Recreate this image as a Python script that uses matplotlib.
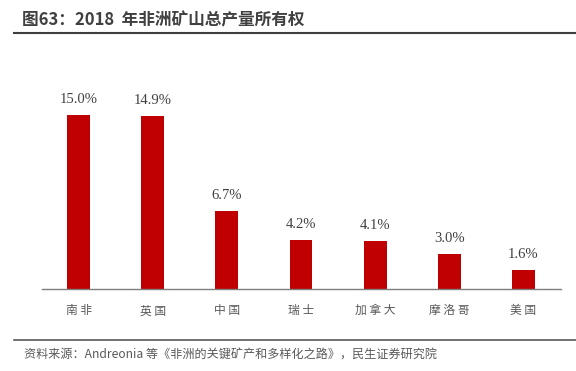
import matplotlib
matplotlib.use("Agg")
import matplotlib.pyplot as plt
from matplotlib.lines import Line2D

plt.rcParams["font.family"] = ["Noto Sans CJK SC", "DejaVu Sans"]

COUNTRIES = ["南非", "英国", "中国", "瑞士", "加拿大", "摩洛哥", "美国"]
SHARES = [15.0, 14.9, 6.7, 4.2, 4.1, 3.0, 1.6]

TITLE = "图63：2018  年非洲矿山总产量所有权"
SOURCE = "资料来源：Andreonia 等《非洲的关键矿产和多样化之路》，民生证券研究院"

BAR_COLOR = "#C00000"
TEXT_GRAY = "#595959"

W, H = 576, 371
fig = plt.figure(figsize=(W / 100, H / 100), dpi=100)

ax = fig.add_axes([41.5 / W, 1 - 289 / H, 519 / W, 208.8 / H])
x = range(len(COUNTRIES))
ax.bar(x, SHARES, width=0.31, color=BAR_COLOR)
ax.set_xlim(-0.5, len(COUNTRIES) - 0.5)
ax.set_ylim(0, 18)

for i, v in zip(x, SHARES):
    ax.annotate(f"{v:.1f}%", (i, v), xytext=(0, 6.5), textcoords="offset points",
                ha="center", va="bottom", fontsize=10.5, color="#404040",
                family="Liberation Serif")

ax.set_xticks(list(x))
ax.set_xticklabels([" ".join(c) for c in COUNTRIES], fontsize=8.5, color=TEXT_GRAY,
                   fontweight="light")
ax.tick_params(axis="x", length=0, pad=11)
ax.set_yticks([])
for side in ["left", "right", "top"]:
    ax.spines[side].set_visible(False)
ax.spines["bottom"].set_color("#7f7f7f")
ax.spines["bottom"].set_linewidth(1.0)

fig.text(22 / W, 1 - 20 / H, TITLE, fontsize=12, fontweight="bold", color="#404040",
         ha="left", va="center")
fig.add_artist(Line2D([14 / W, 1], [1 - 33 / H, 1 - 33 / H], color="#404040", linewidth=1.5))
fig.add_artist(Line2D([14 / W, 1], [1 - 340 / H, 1 - 340 / H], color="#595959", linewidth=1.2))
fig.text(24 / W, 1 - 355 / H, SOURCE, fontsize=8.7, color=TEXT_GRAY, ha="left", va="center")

fig.savefig("out.png", dpi=100)
